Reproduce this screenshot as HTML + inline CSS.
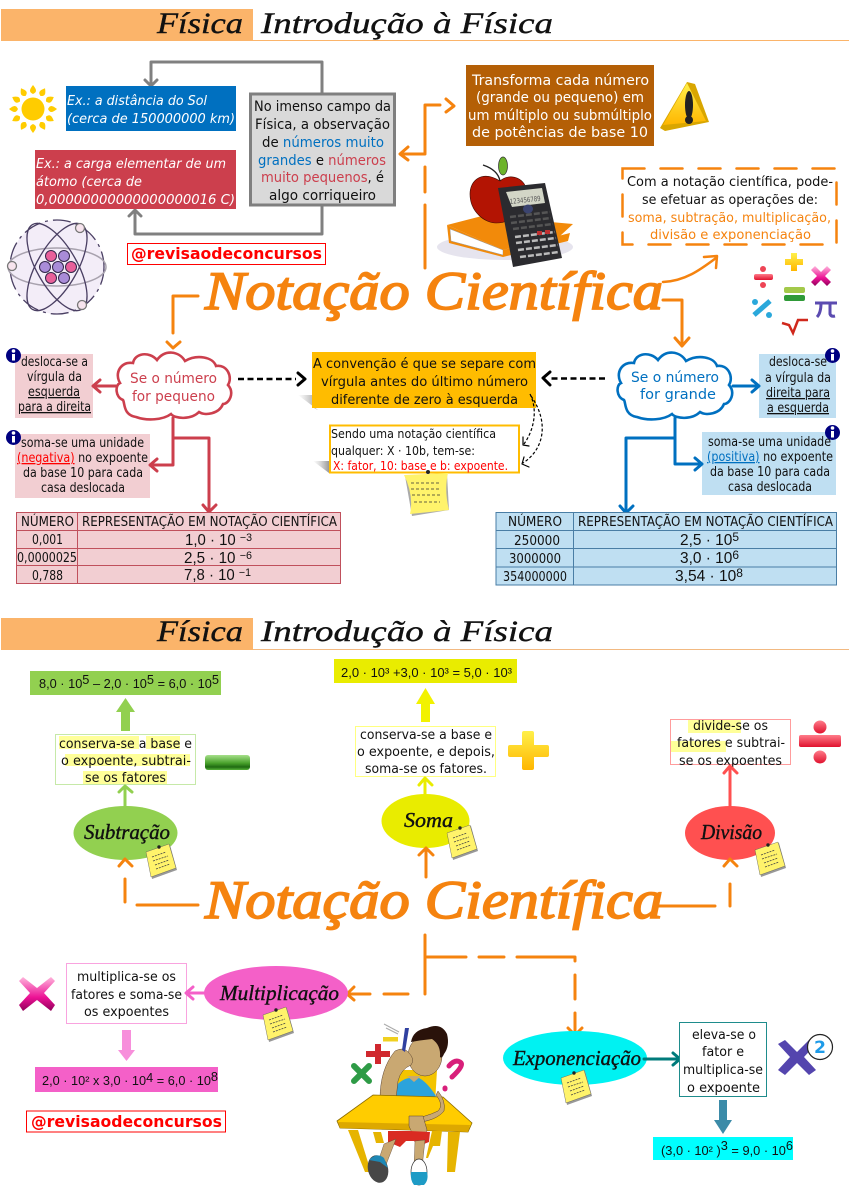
<!DOCTYPE html>
<html lang="pt"><head><meta charset="utf-8"><title>Notação Científica</title>
<style>
html,body{margin:0;padding:0;background:#fff}
svg{display:block}
text{font-family:"DejaVu Sans","Liberation Sans",sans-serif;font-size:13px;fill:#111}
.s{font-family:"Liberation Serif",serif;font-style:italic;font-size:30px;fill:#111;stroke:#111;stroke-width:.4}
.n{font-family:"Liberation Serif",serif;font-style:italic;font-size:21px;fill:#111;stroke:#111;stroke-width:.4}
.T{font-family:"Liberation Serif",serif;font-style:italic;font-size:54px;fill:#F5830F;stroke:#F5830F;stroke-width:1.7}
.c{font-family:"DejaVu Sans",sans-serif;font-size:14.5px}
.w{fill:#fff}.i{font-style:italic}
.f{font-family:"Liberation Sans",sans-serif;font-size:15.5px}
.g{font-family:"Liberation Sans",sans-serif;font-size:13px}
.h{font-family:"DejaVu Sans",sans-serif;font-weight:700;font-size:16px;fill:#f00}
.l{fill:none;stroke-linecap:round;stroke-linejoin:round}
</style></head><body>
<svg xmlns="http://www.w3.org/2000/svg" width="850" height="1193" viewBox="0 0 850 1193">
<defs>
<g id="note"><polygon points="-12,-11 10,-17 17,8 -8,17" fill="#999"/><polygon points="-14,-10 9,-18 16,6 -9,15" fill="#FFF36B" stroke="#555" stroke-width=".4"/><path d="M-8-5l14-5M-7-1l15-5M-5 3l14-5M-4 7l14-5" stroke="#444" stroke-width=".8" stroke-dasharray="2 1"/><circle cx="-1" cy="-15" r="1.7" fill="#222"/></g>
<linearGradient id="gg" x1="0" y1="0" x2="0" y2="1"><stop offset="0" stop-color="#A6E08A"/><stop offset=".55" stop-color="#47A02A"/><stop offset=".8" stop-color="#1F6A12"/><stop offset="1" stop-color="#56B338"/></linearGradient>
<linearGradient id="yy" x1="0" y1="0" x2="0" y2="1"><stop offset="0" stop-color="#FFF04A"/><stop offset="1" stop-color="#FFB600"/></linearGradient>
<linearGradient id="rr" x1="0" y1="0" x2="0" y2="1"><stop offset="0" stop-color="#FF7C8A"/><stop offset="1" stop-color="#E0122E"/></linearGradient>
<linearGradient id="mm" x1="0" y1="0" x2="0" y2="1"><stop offset="0" stop-color="#FFB5DC"/><stop offset=".6" stop-color="#EC1295"/><stop offset="1" stop-color="#90005A"/></linearGradient>
<linearGradient id="sh" x1="0" y1="0" x2="1" y2="0"><stop offset="0" stop-color="#bbb" stop-opacity="0"/><stop offset="1" stop-color="#999"/></linearGradient>
</defs>
<rect width="850" height="1193" fill="#fff"/>

<!-- HEADER 1 -->
<rect x="1" y="9" width="252" height="32" fill="#FBB46A"/>
<line x1="253" y1="40.5" x2="849" y2="40.5" stroke="#FBB46A"/>
<text class="s" x="157" y="33" textLength="86" lengthAdjust="spacingAndGlyphs">Física</text>
<text class="s" x="261" y="33" textLength="292" lengthAdjust="spacingAndGlyphs">Introdução à Física</text>

<!-- Sun -->
<g transform="translate(33,109)"><g fill="#FFCC00">
<path id="ray" d="M0-24C4-19 4-17 0-15C-4-17-4-19 0-24Z"/>
<use href="#ray" transform="rotate(30)"/><use href="#ray" transform="rotate(60)"/><use href="#ray" transform="rotate(90)"/><use href="#ray" transform="rotate(120)"/><use href="#ray" transform="rotate(150)"/><use href="#ray" transform="rotate(180)"/><use href="#ray" transform="rotate(210)"/><use href="#ray" transform="rotate(240)"/><use href="#ray" transform="rotate(270)"/><use href="#ray" transform="rotate(300)"/><use href="#ray" transform="rotate(330)"/>
<circle r="11.5"/></g></g>

<!-- Gray connectors -->
<path class="l" d="M322 93V62H151V85" stroke="#808080" stroke-width="3"/>
<path class="l" d="M145 80L151 86L157 80" stroke="#808080" stroke-width="3"/>
<path class="l" d="M322 205V234H135V212" stroke="#808080" stroke-width="3"/>
<path class="l" d="M129 216L135 210L141 216" stroke="#808080" stroke-width="3"/>

<!-- Blue & red examples -->
<rect x="66" y="86" width="170" height="45" fill="#0070C0"/>
<text class="w i" x="67" y="105" textLength="140" lengthAdjust="spacingAndGlyphs">Ex.: a distância do Sol</text>
<text class="w i" x="67" y="123" textLength="168" lengthAdjust="spacingAndGlyphs">(cerca de 150000000 km)</text>
<rect x="35" y="150" width="201" height="59" fill="#CC3F4D"/>
<text class="w i" x="36" y="168" textLength="190" lengthAdjust="spacingAndGlyphs">Ex.: a carga elementar de um</text>
<text class="w i" x="36" y="186" textLength="106" lengthAdjust="spacingAndGlyphs">átomo (cerca de</text>
<text class="w i" x="36" y="204" textLength="199" lengthAdjust="spacingAndGlyphs">0,00000000000000000016 C)</text>

<!-- Gray box -->
<rect x="250.5" y="94" width="144" height="111" fill="#D9D9D9" stroke="#7F7F7F" stroke-width="3"/>
<text class="c" x="254" y="111" textLength="137" lengthAdjust="spacingAndGlyphs">No imenso campo da</text>
<text class="c" x="255" y="129" textLength="135" lengthAdjust="spacingAndGlyphs">Física, a observação</text>
<text class="c" x="262" y="147" textLength="122" lengthAdjust="spacingAndGlyphs">de <tspan fill="#0070C0">números muito</tspan></text>
<text class="c" x="258" y="165" textLength="128" lengthAdjust="spacingAndGlyphs"><tspan fill="#0070C0">grandes</tspan> e <tspan fill="#CC3F4D">números</tspan></text>
<text class="c" x="261" y="182" textLength="123" lengthAdjust="spacingAndGlyphs"><tspan fill="#CC3F4D">muito pequenos</tspan>, é</text>
<text class="c" x="269" y="200" textLength="107" lengthAdjust="spacingAndGlyphs">algo corriqueiro</text>

<!-- Handle -->
<rect x="127.5" y="243.5" width="198" height="21" fill="#fff" stroke="#f00"/>
<text class="h" x="131" y="259" textLength="191" lengthAdjust="spacingAndGlyphs">@revisaodeconcursos</text>

<!-- Atom -->
<g transform="translate(57,267)" fill="none" stroke="#4A3F63" stroke-width="1.3">
<circle r="47" fill="#F3EDF8" stroke="#4A3F63" stroke-dasharray="18 5 3 5"/>
<ellipse rx="49" ry="19" stroke="#A8A2AE" stroke-width="1.5"/>
<ellipse rx="49" ry="20" transform="rotate(60)"/>
<ellipse rx="49" ry="20" transform="rotate(-60)"/>
<g stroke="#33264A" stroke-width="1">
<circle cx="-6" cy="-11" r="5.5" fill="#E8609A"/><circle cx="7" cy="-11" r="5.5" fill="#A98CD8"/>
<circle cx="-12" cy="0" r="5.5" fill="#A98CD8"/><circle cx="1" cy="0" r="5.5" fill="#A98CD8"/><circle cx="14" cy="0" r="5.5" fill="#E8609A"/>
<circle cx="-6" cy="11" r="5.5" fill="#E8609A"/><circle cx="7" cy="11" r="5.5" fill="#A98CD8"/></g>
<circle cx="23" cy="-39" r="4.5" fill="#F7E4EE" stroke="#777"/><circle cx="-45" cy="-1" r="4.5" fill="#F7E4EE" stroke="#777"/><circle cx="25" cy="38" r="4.5" fill="#F7E4EE" stroke="#777"/>
</g>

<!-- Top-center connectors -->
<path class="l" d="M425 268V205M425 192V167M425 153V105H440" stroke="#F5830F" stroke-width="3"/>
<path class="l" d="M446 99L454 106L446 112" stroke="#F5830F" stroke-width="3"/>
<path class="l" d="M425 154H401M408 147L400 154L408 160" stroke="#F5830F" stroke-width="3"/>

<!-- Brown box -->
<rect x="466" y="65" width="188" height="81" fill="#B45F06"/>
<text class="c w" x="472" y="85" textLength="177" lengthAdjust="spacingAndGlyphs">Transforma cada número</text>
<text class="c w" x="476" y="102" textLength="168" lengthAdjust="spacingAndGlyphs">(grande ou pequeno) em</text>
<text class="c w" x="468" y="120" textLength="184" lengthAdjust="spacingAndGlyphs">um múltiplo ou submúltiplo</text>
<text class="c w" x="472" y="137" textLength="176" lengthAdjust="spacingAndGlyphs">de potências de base 10</text>

<!-- Warning -->
<polygon points="660,128 687,82 695,84 709,122 665,131" fill="#D9A600"/>
<polygon points="663,125 687,83 706,121" fill="url(#yy)"/>
<ellipse cx="689" cy="105" rx="4" ry="14" fill="#222"/><circle cx="689" cy="120" r="4" fill="#222"/>

<!-- Book, apple, calculator -->
<ellipse cx="505" cy="247" rx="68" ry="13" fill="#E6E4EE"/>
<polygon points="447,225 482,216 573,224 560,236 503,250" fill="#F28A0A"/>
<polygon points="447,225 503,250 503,257 449,243" fill="#F28A0A"/>
<polygon points="450,229 503,250 503,255 451,241" fill="#fff" stroke="#999" stroke-width=".5"/>
<polygon points="503,250 570,233 568,241 503,257" fill="#F28A0A"/>
<path d="M483 165Q498 170 500 181" fill="none" stroke="#222" stroke-width="1.4"/>
<path d="M500 181C482 170 470 180 470 194C470 212 485 223 496 223C515 223 527 205 527 194C527 178 510 172 500 181Z" fill="#B31403" stroke="#3a0d05" stroke-width=".6"/>
<ellipse cx="503" cy="166" rx="4.5" ry="9" fill="#6DB32B" stroke="#333" stroke-width=".7"/>
<polygon points="498,188 545,183 562,258 513,267" fill="#2B2B2F"/>
<polygon points="506,192 542,188 545,203 512,207" fill="#D3D6C7"/>
<text x="510" y="204" textLength="31" lengthAdjust="spacingAndGlyphs" transform="rotate(-6 510 204)" style="font-size:7px;fill:#555">123456789</text>
<ellipse cx="528" cy="209" rx="5" ry="4.500" fill="#3B4470"/>
<g fill="none" stroke-width="2.500" stroke-dasharray="6 2">
<path d="M510 217L550 212M511 223L551 218M513 229L553 224" stroke="#555"/>
<path d="M515 237L555 232M516 243L556 238M518 250L558 245M520 257L559 252" stroke="#bbb"/></g>
<rect x="537" y="231" width="5" height="4" fill="#C03030"/><rect x="545" y="230" width="5" height="4" fill="#C03030"/>

<!-- Dashed box -->
<rect x="622.5" y="168.5" width="214" height="76" fill="#fff" stroke="#F5830F" stroke-width="2.5" stroke-dasharray="22 16" stroke-linecap="round"/>
<text x="627" y="186" textLength="206" lengthAdjust="spacingAndGlyphs">Com a notação científica, pode-</text>
<text x="642" y="204" textLength="176" lengthAdjust="spacingAndGlyphs">se efetuar as operações de:</text>
<text x="628" y="222" textLength="203" lengthAdjust="spacingAndGlyphs" style="fill:#F5830F">soma, subtração, multiplicação,</text>
<text x="650" y="239" textLength="161" lengthAdjust="spacingAndGlyphs" style="fill:#F5830F">divisão e exponenciação</text>

<path class="l" d="M663 282C685 281 700 270 716 258M704 257L717 256L716 268" stroke="#F5830F" stroke-width="2.5"/>
<path class="l" d="M663 300H682V344M675 338L682 346L689 338" stroke="#F5830F" stroke-width="3"/>

<!-- Ops icons -->
<rect x="754" y="274" width="19" height="6" rx="2" fill="url(#rr)"/><circle cx="763" cy="269" r="3" fill="#EE4455"/><circle cx="763" cy="285" r="3" fill="#EE4455"/>
<path d="M791 253h6v6h6v6h-6v6h-6v-6h-6v-6h6z" fill="url(#yy)"/>
<path d="M811 270l4-4 6 6 6-6 4 4-6 6 6 6-4 4-6-6-6 6-4-4 6-6z" fill="url(#mm)"/>
<rect x="784" y="287" width="21" height="6" rx="2" fill="#A3C94A"/><rect x="784" y="295" width="21" height="6" rx="2" fill="#2F9A38"/>
<path d="M754 315L770 301" stroke="#2AA8DB" stroke-width="5"/><circle cx="755" cy="302" r="3" fill="#2AA8DB"/><circle cx="769" cy="315" r="3" fill="#2AA8DB"/>
<path d="M815 303h22M821 303q0 10-4 14M830 303v11q1 3 5 2" fill="none" stroke="#5B4BB0" stroke-width="3"/>
<path d="M782 323l7 2 4 8 5-13h10" fill="none" stroke="#D0281C" stroke-width="2.5"/>

<!-- Title 1 -->
<text class="T" x="205" y="309" textLength="458" lengthAdjust="spacingAndGlyphs">Notação Científica</text>

<!-- left branch from title -->
<path class="l" d="M198 296H173V333" stroke="#F5830F" stroke-width="3"/>
<path class="l" d="M167 342L173 348L180 342" stroke="#F5830F" stroke-width="3"/>

<!-- Clouds -->
<path d="M135 418C122 416 124 404 122 401C114 398 114 386 119 384C113 374 120 362 132 364C134 354 148 352 156 361C164 350 178 352 184 362C196 355 212 358 215 367C226 365 232 378 227 386C234 394 228 405 222 405C218 415 204 417 198 413C190 421 174 420 170 415C162 421 146 422 135 418Z" fill="#fff" stroke="#CC3F4D" stroke-width="2.6" transform="translate(1,-1)"/>
<text class="c" x="130" y="383" textLength="87" lengthAdjust="spacingAndGlyphs" style="fill:#CC3F4D">Se o número</text>
<text class="c" x="132" y="401" textLength="83" lengthAdjust="spacingAndGlyphs" style="fill:#CC3F4D">for pequeno</text>
<path d="M135 418C122 416 124 404 122 401C114 398 114 386 119 384C113 374 120 362 132 364C134 354 148 352 156 361C164 350 178 352 184 362C196 355 212 358 215 367C226 365 232 378 227 386C234 394 228 405 222 405C218 415 204 417 198 413C190 421 174 420 170 415C162 421 146 422 135 418Z" fill="none" stroke="#0070C0" stroke-width="2.6" transform="translate(502,-1)"/>
<text class="c" x="631" y="382" textLength="88" lengthAdjust="spacingAndGlyphs" style="fill:#0070C0">Se o número</text>
<text class="c" x="640" y="399" textLength="76" lengthAdjust="spacingAndGlyphs" style="fill:#0070C0">for grande</text>

<!-- Black dashed arrows -->
<path d="M238 379H296" stroke="#000" stroke-width="2.5" stroke-dasharray="6 3.5" fill="none"/>
<path class="l" d="M298 373L305 379L298 385" stroke="#000" stroke-width="3"/>
<path d="M605 378.500H549" stroke="#000" stroke-width="2.5" stroke-dasharray="6 3.500" fill="none"/>
<path class="l" d="M550 372L543 378L550 385" stroke="#000" stroke-width="3"/>

<!-- Center -->
<polygon points="298,395 312,395 312,407 318,410" fill="url(#sh)"/>
<rect x="312" y="352" width="224" height="56" fill="#FFBC00"/>
<text x="313" y="368" textLength="223" lengthAdjust="spacingAndGlyphs">A convenção é que se separe com</text>
<text x="321" y="386" textLength="207" lengthAdjust="spacingAndGlyphs">vírgula antes do último número</text>
<text x="331" y="404" textLength="187" lengthAdjust="spacingAndGlyphs">diferente de zero à esquerda</text>
<polygon points="313,461 329,461 329,473" fill="url(#sh)"/>
<rect x="330" y="425.500" width="189" height="47" fill="#fff" stroke="#FFBC00" stroke-width="2"/>
<text x="331" y="438" textLength="165" lengthAdjust="spacingAndGlyphs" style="font-size:12px">Sendo uma notação científica</text>
<text x="331" y="455" textLength="144" lengthAdjust="spacingAndGlyphs" style="font-size:12px">qualquer: X · 10b, tem-se:</text>
<text x="333" y="470" textLength="175" lengthAdjust="spacingAndGlyphs" style="font-size:12px;fill:#f00">X: fator, 10: base e b: expoente.</text>
<path d="M530 394C538 410 534 430 524 444M531 396C548 420 546 448 523 463" fill="none" stroke="#000" stroke-width="1.2" stroke-dasharray="3 2"/>
<path class="l" d="M523 437L523 445L529 446M524 457L522 464L529 467" stroke="#000" stroke-width="1.2"/>
<polygon points="405,476 447,474 449,510 412,516" fill="#AAA"/>
<path d="M404 475L448 473Q444 490 449 510L410 514Q414 495 404 475Z" fill="#FFF36B"/>
<path d="M411 483h30M411 489h28M412 495h28M414 502h26" stroke="#333" stroke-width=".8" stroke-dasharray="3 2"/><circle cx="428" cy="472" r="2" fill="#222"/>

<!-- Left pink -->
<rect x="15" y="354" width="78" height="64" fill="#F2CED2"/>
<text x="21" y="366" textLength="67" lengthAdjust="spacingAndGlyphs">desloca-se a</text>
<text x="27" y="381" textLength="55" lengthAdjust="spacingAndGlyphs">vírgula da</text>
<text x="28" y="396" textLength="52" lengthAdjust="spacingAndGlyphs" text-decoration="underline">esquerda</text>
<text x="18" y="411" textLength="73" lengthAdjust="spacingAndGlyphs" text-decoration="underline">para a direita</text>
<rect x="15" y="434" width="135" height="64" fill="#F2CED2"/>
<text x="21" y="447" textLength="123" lengthAdjust="spacingAndGlyphs">soma-se uma unidade</text>
<text x="17" y="462" textLength="131" lengthAdjust="spacingAndGlyphs"><tspan fill="#f00" text-decoration="underline">(negativa)</tspan> no expoente</text>
<text x="23" y="477" textLength="120" lengthAdjust="spacingAndGlyphs">da base 10 para cada</text>
<text x="41" y="492" textLength="84" lengthAdjust="spacingAndGlyphs">casa deslocada</text>
<g id="inf"><circle cx="13.500" cy="355.500" r="7.500" fill="#000080"/><rect x="12" y="354" width="3" height="6.500" fill="#fff"/><circle cx="13.500" cy="351" r="1.800" fill="#fff"/></g>
<use href="#inf" y="82"/>

<path class="l" d="M116 386H94M100 380L93 386L100 392" stroke="#CC3F4D" stroke-width="3"/>
<path class="l" d="M173 418V465H151M157 459L150 465L157 471" stroke="#CC3F4D" stroke-width="3"/>
<path class="l" d="M173 438H209V510M203 505L209 512L216 505" stroke="#CC3F4D" stroke-width="3"/>

<!-- Right blue -->
<rect x="759" y="354" width="77" height="64" fill="#BFDFF2"/>
<text x="769" y="366" textLength="58" lengthAdjust="spacingAndGlyphs">desloca-se</text>
<text x="765" y="382" textLength="66" lengthAdjust="spacingAndGlyphs">a vírgula da</text>
<text x="766" y="397" textLength="64" lengthAdjust="spacingAndGlyphs" text-decoration="underline">direita para</text>
<text x="767" y="412" textLength="62" lengthAdjust="spacingAndGlyphs" text-decoration="underline">a esquerda</text>
<rect x="702" y="432" width="134" height="63" fill="#BFDFF2"/>
<text x="708" y="446" textLength="123" lengthAdjust="spacingAndGlyphs">soma-se uma unidade</text>
<text x="707" y="461" textLength="126" lengthAdjust="spacingAndGlyphs"><tspan fill="#0070C0" text-decoration="underline">(positiva)</tspan> no expoente</text>
<text x="710" y="476" textLength="120" lengthAdjust="spacingAndGlyphs">da base 10 para cada</text>
<text x="728" y="491" textLength="84" lengthAdjust="spacingAndGlyphs">casa deslocada</text>
<use href="#inf" x="819"/><use href="#inf" x="819" y="77"/>
<path class="l" d="M733 386H758M752 380L759 386L752 392" stroke="#0070C0" stroke-width="3"/>
<path class="l" d="M675 418V464H701M695 458L702 464L695 470" stroke="#0070C0" stroke-width="3"/>
<path class="l" d="M675 438H626V511M620 506L626 513L633 506" stroke="#0070C0" stroke-width="3"/>

<!-- Tables -->
<g fill="#F2CED2" stroke="#C0505C"><rect x="16.500" y="512.500" width="324" height="71"/></g>
<path d="M77.500 512V583M16 530.500H340M16 548.500H340M16 565.500H340" stroke="#C0505C" fill="none"/>
<text x="21" y="526" textLength="53" lengthAdjust="spacingAndGlyphs">NÚMERO</text>
<text x="82" y="526" textLength="255" lengthAdjust="spacingAndGlyphs">REPRESENTAÇÃO EM NOTAÇÃO CIENTÍFICA</text>
<text x="32" y="544" textLength="31" lengthAdjust="spacingAndGlyphs">0,001</text>
<text x="17" y="562" textLength="60" lengthAdjust="spacingAndGlyphs">0,0000025</text>
<text x="32" y="580" textLength="31" lengthAdjust="spacingAndGlyphs">0,788</text>
<text class="f" x="185" y="545" textLength="67" lengthAdjust="spacingAndGlyphs">1,0 · 10 <tspan dy="-4" font-size="11">−3</tspan></text>
<text class="f" x="184" y="563" textLength="68" lengthAdjust="spacingAndGlyphs">2,5 · 10 <tspan dy="-4" font-size="11">−6</tspan></text>
<text class="f" x="184" y="580" textLength="67" lengthAdjust="spacingAndGlyphs">7,8 · 10 <tspan dy="-4" font-size="11">−1</tspan></text>

<rect x="496" y="512.500" width="340.500" height="72.500" fill="#BFDFF2" stroke="#4A7EA5"/>
<path d="M573.500 512V585M496 530.500H836M496 548.500H836M496 567H836" stroke="#4A7EA5" fill="none"/>
<text x="508" y="526" textLength="54" lengthAdjust="spacingAndGlyphs">NÚMERO</text>
<text x="578" y="526" textLength="255" lengthAdjust="spacingAndGlyphs">REPRESENTAÇÃO EM NOTAÇÃO CIENTÍFICA</text>
<text x="514" y="545" textLength="46" lengthAdjust="spacingAndGlyphs">250000</text>
<text x="509" y="563" textLength="52" lengthAdjust="spacingAndGlyphs">3000000</text>
<text x="503" y="581" textLength="64" lengthAdjust="spacingAndGlyphs">354000000</text>
<text class="f" x="680" y="545" textLength="59" lengthAdjust="spacingAndGlyphs">2,5 · 10<tspan dy="-4" font-size="12">5</tspan></text>
<text class="f" x="680" y="563" textLength="59" lengthAdjust="spacingAndGlyphs">3,0 · 10<tspan dy="-4" font-size="12">6</tspan></text>
<text class="f" x="675" y="581" textLength="68" lengthAdjust="spacingAndGlyphs">3,54 · 10<tspan dy="-4" font-size="12">8</tspan></text>

<!-- HEADER 2 -->
<rect x="1" y="618" width="252" height="32" fill="#FBB46A"/>
<line x1="253" y1="649.500" x2="849" y2="649.500" stroke="#F2B981"/>
<text class="s" x="157" y="641" textLength="86" lengthAdjust="spacingAndGlyphs">Física</text>
<text class="s" x="261" y="641" textLength="292" lengthAdjust="spacingAndGlyphs">Introdução à Física</text>

<!-- Subtração -->
<rect x="30" y="671" width="191" height="24" fill="#92D050"/>
<text class="g" x="39" y="688" textLength="180" lengthAdjust="spacingAndGlyphs">8,0 · 10<tspan dy="-4">5</tspan><tspan dy="4"> – 2,0 · 10</tspan><tspan dy="-4">5</tspan><tspan dy="4"> = 6,0 · 10</tspan><tspan dy="-4">5</tspan></text>
<polygon points="125.500,698 135,712 130,712 130,731 121,731 121,712 116,712" fill="#92D050"/>
<rect x="55.500" y="734.500" width="140" height="50" fill="#fff" stroke="#C6E9A8"/>
<rect x="59" y="736" width="80" height="13" fill="#FFFF99"/><rect x="146" y="736" width="34" height="13" fill="#FFFF99"/><rect x="65" y="754" width="125" height="12" fill="#FFFF99"/><rect x="83" y="771" width="84" height="13" fill="#FFFF99"/>
<text x="59" y="748" textLength="133" lengthAdjust="spacingAndGlyphs">conserva-se a base e</text>
<text x="61" y="765" textLength="130" lengthAdjust="spacingAndGlyphs">o expoente, subtrai-</text>
<text x="85" y="782" textLength="81" lengthAdjust="spacingAndGlyphs">se os fatores</text>
<rect x="205" y="755" width="45" height="15" rx="3" fill="url(#gg)"/>
<path class="l" d="M125 806V787M119 792L125 786L132 792" stroke="#92D050" stroke-width="3"/>
<ellipse cx="125.500" cy="833" rx="52" ry="27" fill="#92D050"/>
<text class="n" x="84" y="839" textLength="86" lengthAdjust="spacingAndGlyphs">Subtração</text>
<use href="#note" x="160" y="862"/>
<path class="l" d="M119 866L125 859L132 866" stroke="#F5830F" stroke-width="3"/>
<path class="l" d="M125 879V902M137 905H198" stroke="#F5830F" stroke-width="3"/>

<!-- Soma -->
<rect x="334" y="659" width="183" height="24" fill="#E9EC00"/>
<text class="g" x="341" y="677" textLength="171" lengthAdjust="spacingAndGlyphs">2,0 · 10³ +3,0 · 10³ = 5,0 · 10³</text>
<polygon points="425.500,688 435,704 430,704 430,722 421,722 421,704 416,704" fill="#F2F200"/>
<rect x="355.500" y="726.500" width="140" height="50" fill="#fff" stroke="#FFFF80"/>
<text x="360" y="739" textLength="132" lengthAdjust="spacingAndGlyphs">conserva-se a base e</text>
<text x="357" y="756" textLength="138" lengthAdjust="spacingAndGlyphs">o expoente, e depois,</text>
<text x="365" y="773" textLength="122" lengthAdjust="spacingAndGlyphs">soma-se os fatores.</text>
<path d="M524 731h8q2 0 2 2v12h13q2 0 2 2v8q0 2-2 2h-13v11q0 2-2 2h-8q-2 0-2-2v-11h-12q-2 0-2-2v-8q0-2 2-2h12v-12q0-2 2-2z" fill="url(#yy)"/>
<path class="l" d="M425 794V779M419 785L425 778L432 785" stroke="#E9EC00" stroke-width="3"/>
<ellipse cx="425.500" cy="821" rx="44" ry="27" fill="#E9EC00"/>
<text class="n" x="404" y="827" textLength="49" lengthAdjust="spacingAndGlyphs">Soma</text>
<use href="#note" x="461" y="843"/>
<path class="l" d="M426 877V849M419 855L426 848L433 855" stroke="#F5830F" stroke-width="3"/>

<!-- Divisão -->
<rect x="670.500" y="719.500" width="120" height="45" fill="#fff" stroke="#FF9C9C"/>
<rect x="688" y="720" width="53" height="13" fill="#FFFF99"/><rect x="671" y="741" width="55" height="11" fill="#FFFF99"/>
<text x="693" y="730" textLength="75" lengthAdjust="spacingAndGlyphs">divide-se os</text>
<text x="677" y="747" textLength="108" lengthAdjust="spacingAndGlyphs">fatores e subtrai-</text>
<text x="679" y="765" textLength="103" lengthAdjust="spacingAndGlyphs">se os expoentes</text>
<rect x="799" y="735" width="42" height="12" rx="2" fill="url(#rr)"/><circle cx="820" cy="727" r="6.500" fill="url(#rr)"/><circle cx="820" cy="757" r="6.500" fill="url(#rr)"/>
<path class="l" d="M730 806V768M724 773L730 766L737 773" stroke="#FF5050" stroke-width="3"/>
<ellipse cx="730" cy="833" rx="45" ry="27" fill="#FF5050"/>
<text class="n" x="701" y="839" textLength="61" lengthAdjust="spacingAndGlyphs">Divisão</text>
<use href="#note" x="769" y="860"/>
<path class="l" d="M724 866L730 859L737 866" stroke="#F5830F" stroke-width="3"/>
<path class="l" d="M730 884V906M657 906H715" stroke="#F5830F" stroke-width="3"/>

<!-- Title 2 -->
<text class="T" x="205" y="918" textLength="458" lengthAdjust="spacingAndGlyphs">Notação Científica</text>

<!-- Bottom connectors -->
<path class="l" d="M425 935V994M408 994H384M370 994H348M354 987L347 994L354 1000" stroke="#F5830F" stroke-width="3"/>
<path class="l" d="M427 957H466M479 957H504M517 957H575V961M575 975V999M575 1013V1034M568 1028L575 1035L582 1028" stroke="#F5830F" stroke-width="3"/>

<!-- Multiplicação -->
<rect x="66.500" y="963.500" width="120" height="60" fill="#fff" stroke="#F9A3DF"/>
<text x="77" y="981" textLength="99" lengthAdjust="spacingAndGlyphs">multiplica-se os</text>
<text x="71" y="999" textLength="111" lengthAdjust="spacingAndGlyphs">fatores e soma-se</text>
<text x="84" y="1016" textLength="85" lengthAdjust="spacingAndGlyphs">os expoentes</text>
<path d="M23 977l14 11 14-11 4 4-11 12 11 12-4 6-14-11-14 11-4-6 11-12-11-12z" fill="url(#mm)"/>
<path class="l" d="M205 993H187M193 987L186 993L193 999" stroke="#F460C8" stroke-width="3"/>
<ellipse cx="276" cy="993" rx="72" ry="27" fill="#F460C8"/>
<text class="n" x="220" y="1000" textLength="119" lengthAdjust="spacingAndGlyphs">Multiplicação</text>
<use href="#note" x="277" y="1025"/>
<polygon points="122,1030 131,1030 131,1050 135,1050 126.500,1061 118,1050 122,1050" fill="#F78FDB"/>
<rect x="35" y="1067" width="183" height="25" fill="#F460C8"/>
<text class="g" x="42" y="1085" textLength="176" lengthAdjust="spacingAndGlyphs">2,0 · 10² x 3,0 · 10<tspan dy="-3">4</tspan><tspan dy="3"> = 6,0 · 10</tspan><tspan dy="-4">8</tspan></text>
<rect x="26.500" y="1111" width="199" height="21" fill="#fff" stroke="#f00"/>
<text class="h" x="31" y="1127" textLength="191" lengthAdjust="spacingAndGlyphs">@revisaodeconcursos</text>

<!-- Exponenciação -->
<ellipse cx="575" cy="1058" rx="72" ry="27" fill="#00F2F2"/>
<text class="n" x="513" y="1065" textLength="128" lengthAdjust="spacingAndGlyphs">Exponenciação</text>
<use href="#note" x="575" y="1088"/>
<path class="l" d="M644 1059H679M673 1053L680 1059L673 1065" stroke="#007B7B" stroke-width="3"/>
<rect x="679.500" y="1022.500" width="87" height="74" fill="#fff" stroke="#1E8C8C"/>
<text x="692" y="1039" textLength="64" lengthAdjust="spacingAndGlyphs">eleva-se o</text>
<text x="702" y="1056" textLength="42" lengthAdjust="spacingAndGlyphs">fator e</text>
<text x="683" y="1074" textLength="80" lengthAdjust="spacingAndGlyphs">multiplica-se</text>
<text x="687" y="1092" textLength="73" lengthAdjust="spacingAndGlyphs">o expoente</text>
<path d="M778 1044l7-4 12 12 12-12 7 4-12 13 12 13-7 5-12-12-12 12-7-5 12-13z" fill="#5445AE"/>
<circle cx="820" cy="1047" r="12.500" fill="#fff" stroke="#222" stroke-width="1.200"/>
<text x="814" y="1053" textLength="12" lengthAdjust="spacingAndGlyphs" style="font-size:17px;font-weight:700;fill:#1E9BE8">2</text>
<polygon points="719,1100 727,1100 727,1120 732,1120 723,1134 714,1120 719,1120" fill="#3B8BA8"/>
<rect x="653" y="1137" width="140" height="23" fill="#00FFFF"/>
<text class="g" x="661" y="1155" textLength="132" lengthAdjust="spacingAndGlyphs">(3,0 · 10² )<tspan dy="-5">3</tspan><tspan dy="5"> = 9,0 · 10</tspan><tspan dy="-5">6</tspan></text>

<!-- Cartoon -->
<g>
<path d="M384 1024l15 8M386 1028l12 6" stroke="#aaa" stroke-width="1"/>
<path d="M354 1066l15 15M369 1066l-15 15" stroke="#2E9B46" stroke-width="6" stroke-linecap="round"/>
<path d="M366 1054h24M378 1044v20" stroke="#D0282E" stroke-width="6"/>
<rect x="383" y="1037" width="15" height="4.500" fill="#F0D020"/>
<path d="M449 1066q6-7 11-4t-8 15M445 1088v1" stroke="#D81F7A" stroke-width="5" fill="none" stroke-linecap="round"/>
<path d="M385 1070h52l-2 34h-48z" fill="#F3C400"/>
<path d="M392 1090q10-12 18-12l9 0q8 4 17 18l-6 5-14-3-16 0-8 3z" fill="#2BA3DC"/>
<path d="M407 1076h14l-7 6z" fill="#C9A872"/>
<ellipse cx="425" cy="1056" rx="17" ry="20" fill="#C9A872" stroke="#5c4430" stroke-width=".5"/>
<path d="M411 1042q2-12 16-14 14-6 20 6 3 12-3 20-2 5-4 3 1-12-8-18-10 1-21 3z" fill="#2A120A"/>
<path d="M380 1099q0-30 15-48 8-4 12 0 9 8 4 14-10 4-13 16l-2 18q-8 3-16 0z" fill="#C9A872" stroke="#5c4430" stroke-width=".5"/>
<path d="M405 1028l-3 22 3 2 4-24z" fill="#3040A0"/>
<polygon points="337,1121 373,1095 443,1097 472,1123 468,1132 410,1130 340,1128" fill="#FFCC00" stroke="#8A6A00" stroke-width=".8"/>
<polygon points="338,1122 470,1125 468,1132 410,1130 340,1128" fill="#DDA800"/>
<path d="M436 1095q8 10 2 16-12 6-28 8l4 4q22-2 30-12 2-10-6-20z" fill="#C9A872" stroke="#5c4430" stroke-width=".5"/>
<path d="M409 1116h14l4 14-4 10h-8l-6-14z" fill="#C9A872" stroke="#5c4430" stroke-width=".5"/>
<polygon points="348,1130 358,1130 371,1172 365,1172" fill="#E6B400"/>
<polygon points="373,1132 381,1132 384,1143 376,1143" fill="#E6B400"/>
<polygon points="448,1132 460,1132 455,1172 447,1172" fill="#E6B400"/>
<polygon points="432,1131 442,1131 440,1146 433,1146 428,1158 426,1158" fill="#E6B400"/>
<path d="M388 1131h22l20 1-1 10-10 4-5-5-8 0-6 6-12-5z" fill="#D92B22"/>
<path d="M396 1139l-12 31-8-2 8-24zM415 1141l-1 27 8 0 3-28z" fill="#C9A872" stroke="#5c4430" stroke-width=".4"/>
<ellipse cx="378" cy="1169" rx="10" ry="14" fill="#474747" transform="rotate(-15 378 1169)"/><path d="M369 1160q8-8 15-2l4 10-8-6z" fill="#1E88B5"/>
<ellipse cx="419" cy="1172" rx="8" ry="13" fill="#fff" stroke="#333" stroke-width=".7"/><path d="M411 1172h16q2 8-3 13h-10q-4-5-3-13z" fill="#1E9BC5"/>
</g>
</svg>
</body></html>
